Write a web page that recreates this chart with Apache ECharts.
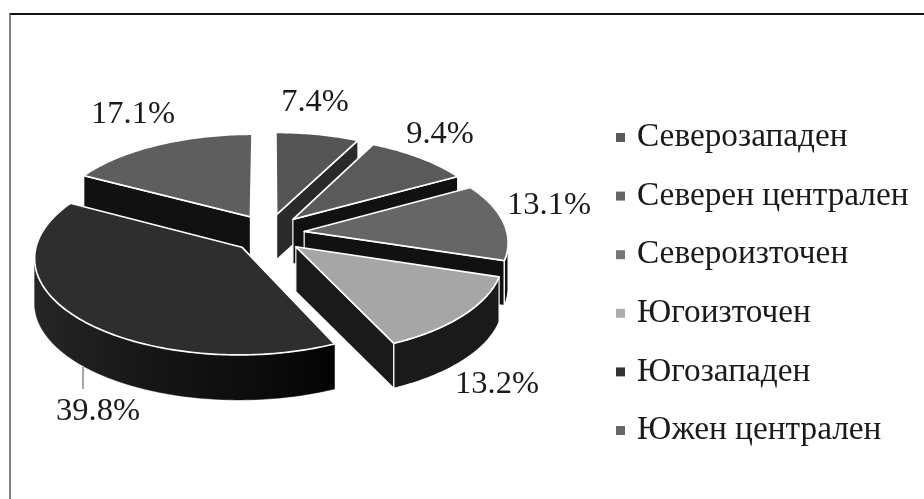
<!DOCTYPE html>
<html><head><meta charset="utf-8">
<style>html,body{margin:0;padding:0;background:#fff}#c{width:924px;height:499px}</style>
<script src="https://cdn.jsdelivr.net/npm/echarts@6/dist/echarts.min.js"></script>
</head><body><div id="c"></div>
<script>
const categories = ['Северозападен','Северен централен','Североизточен','Югоизточен','Югозападен','Южен централен'];
const shares = [7.4, 9.4, 13.1, 13.2, 39.8, 17.1];
const tickLabels = ['7.4%','9.4%','13.1%','13.2%','39.8%','17.1%'];

const topColors = ['#555555','#5a5a5a','#666666','#a6a6a6','#2e2e2e','#5e5e5e'];
const wallColors = ['#2a2a2a','#111111','#111111','#1a1a1a','#161616','#111111'];
const legendColors = ['#5a5a5a','#666666','#777777','#adadad','#333333','#666666'];
const drawOrder = [0,5,1,2,3,4];
const labelAnchors = [[315,102],[440,134.5],[549,205],[497,384],[98,411],[133,114]];

const view = {cx:268.5, cy:233.5, rx:203, ry:94, persp:0.1, explodeX:0.177, explodeZ:0.21, depth:45};
const FONT = '"Liberation Serif","Times New Roman",serif';

function project(px, pz){
  const f = 1/(1+view.persp*pz);
  return [view.cx + view.rx*px*f, view.cy - view.ry*pz*f];
}
function sliceAngles(i){
  const total = shares.reduce((a,b)=>a+b,0);
  let s = 0; for(let k=0;k<i;k++) s += shares[k];
  return [s/total*2*Math.PI, (s+shares[i])/total*2*Math.PI];
}
function down(p){ return [p[0], p[1]+view.depth]; }
function sliceGroup(i){
  const [a0,a1] = sliceAngles(i);
  const mid = (a0+a1)/2;
  const ox = view.explodeX*Math.sin(mid), oz = view.explodeZ*Math.cos(mid);
  const apex = project(ox,oz);
  const at = a => project(ox+Math.sin(a), oz+Math.cos(a));
  const arc = [];
  const front = [];
  const steps = Math.max(12, Math.round((a1-a0)*60));
  for(let k=0;k<=steps;k++){
    const a = a0+(a1-a0)*k/steps;
    arc.push(at(a));
    if(Math.cos(a) < -view.persp) front.push(at(a));
  }
  const first = arc[0], last = arc[arc.length-1];
  const white = {stroke:'#ffffff', lineJoin:'round'};
  const children = [];
  let arcFill = wallColors[i];
  if(i===4){
    arcFill = {type:'linear',x:0,y:0,x2:1,y2:0,colorStops:[
      {offset:0,color:'#262626'},{offset:0.35,color:'#171717'},{offset:0.75,color:'#0c0c0c'},{offset:1,color:'#030303'}]};
  }
  if(Math.sin(a0) < -1e-6){
    children.push({type:'polygon',shape:{points:[apex,first,down(first),down(apex)]},style:Object.assign({fill:wallColors[i],lineWidth:1.2},white)});
  }
  if(Math.sin(a1) > 1e-6){
    children.push({type:'polygon',shape:{points:[apex,last,down(last),down(apex)]},style:Object.assign({fill:wallColors[i],lineWidth:1.2},white)});
  }
  if(front.length > 1){
    children.push({type:'polygon',shape:{points:front.concat(front.slice().reverse().map(down))},style:{fill:arcFill,stroke:i===4?arcFill:'#ffffff',lineWidth:i===4?0.5:1.2,lineJoin:'round'}});
  }
  children.push({type:'polygon',shape:{points:[apex].concat(arc)},style:Object.assign({fill:topColors[i],lineWidth:1.7},white)});
  return {type:'group',children};
}
const series = drawOrder.map(i=>({
  type:'custom', name:categories[i], coordinateSystem:'none', silent:true, animation:false,
  itemStyle:{color:legendColors[i]},
  data:[shares[i]],
  renderItem:()=>sliceGroup(i)
}));
const labelGraphics = shares.map((v,i)=>({
  type:'text', x:labelAnchors[i][0], y:labelAnchors[i][1],
  style:{text:tickLabels[i], font:'32.5px '+FONT, fill:'#1a1a1a', align:'center', verticalAlign:'middle'}
}));
const chart = echarts.init(document.getElementById('c'),null,{renderer:'canvas'});
chart.setOption({
  animation:false, backgroundColor:'#ffffff',
  legend:{
    orient:'vertical', left:616, top:117.5, padding:0, icon:'rect', itemWidth:9, itemHeight:9, itemGap:18.6,
    selectedMode:false, data:categories, align:'left',
    textStyle:{fontFamily:FONT, fontSize:33.3, color:'#1a1a1a', lineHeight:34, padding:[6,0,0,7]}
  },
  series,
  graphic:[
    {type:'line',shape:{x1:9.5,y1:14,x2:924,y2:14},style:{stroke:'#111111',lineWidth:2},silent:true},
    {type:'line',shape:{x1:10,y1:14,x2:10,y2:499},style:{stroke:'#666666',lineWidth:1.6},silent:true},
    {type:'line',shape:{x1:83,y1:367,x2:83,y2:389},style:{stroke:'#888888',lineWidth:1.5},silent:true}
  ].concat(labelGraphics)
});
</script></body></html>
